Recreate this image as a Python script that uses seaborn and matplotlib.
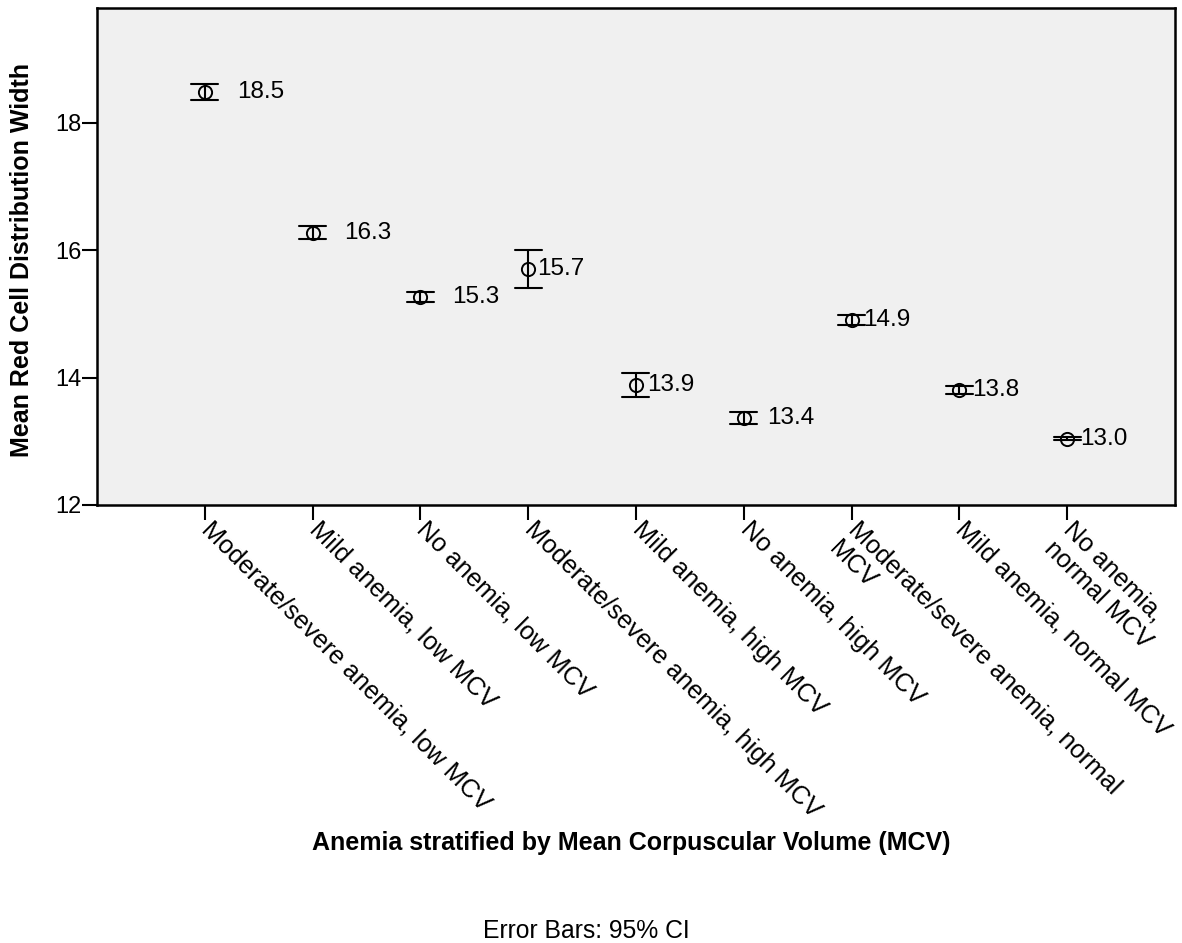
import numpy as np
import pandas as pd
import matplotlib
matplotlib.use("Agg")
import matplotlib.pyplot as plt
import matplotlib.transforms as mtransforms
import seaborn as sns

# values (mean and 95% CI limits)
groups = [
    "Moderate/severe anemia, low MCV",
    "Mild anemia, low MCV",
    "No anemia, low MCV",
    "Moderate/severe anemia, high MCV",
    "Mild anemia, high MCV",
    "No anemia, high MCV",
    "Moderate/severe anemia, normal\nMCV",
    "Mild anemia, normal MCV",
    "No anemia,\nnormal MCV",
]
means = [18.48, 16.27, 15.27, 15.70, 13.88, 13.36, 14.90, 13.80, 13.04]
ci_low = [18.35, 16.17, 15.19, 15.41, 13.70, 13.27, 14.82, 13.74, 13.02]
ci_high = [18.61, 16.38, 15.35, 16.00, 14.07, 13.46, 14.98, 13.86, 13.07]
value_labels = ["18.5", "16.3", "15.3", "15.7", "13.9", "13.4", "14.9", "13.8", "13.0"]

# label offsets in pixels (SPSS nudges them to clear the caps)
label_dx = [32, 32, 32, 9, 11, 23, 12, 13, 13]

sns.set_style("white")
plt.rcParams['font.family'] = ['Liberation Sans', 'DejaVu Sans']
plt.rcParams['text.color'] = 'black'
plt.rcParams['axes.labelcolor'] = 'black'
plt.rcParams['xtick.color'] = 'black'
plt.rcParams['ytick.color'] = 'black'

# three rows per group: median = mean, min/max = CI limits
rows = []
for g, m, lo, hi in zip(groups, means, ci_low, ci_high):
    for v in (lo, m, hi):
        rows.append({"group": g, "rdw": v})
df = pd.DataFrame(rows)

fig = plt.figure(figsize=(11.82, 9.43), dpi=100)
ax = fig.add_axes([0.082, 0.4645, 0.912, 0.527])
ax.set_facecolor("#f0f0f0")

sns.pointplot(data=df, x="group", y="rdw", order=groups,
              estimator="median", errorbar=("pi", 100),
              capsize=0.25, linestyle="none", color="black",
              marker="o", markerfacecolor="none", markeredgewidth=1.4,
              markersize=9.5, err_kws={"linewidth": 1.5}, ax=ax)

for i, (m, txt) in enumerate(zip(means, value_labels)):
    ax.annotate(txt, (i, m), xytext=(label_dx[i], 0), textcoords="offset pixels",
                ha="left", va="center", fontsize=17.5, color="black")

ax.set_xlim(-1, 9)
ax.set_ylim(12, 19.8)
ax.set_yticks([12, 14, 16, 18])
ax.tick_params(axis="y", direction="out", length=11, width=1.5, labelsize=17, pad=0, left=True)
ax.tick_params(axis="x", direction="out", length=11, width=1.5, labelsize=18.3, pad=1, bottom=True)
# nudge rotated labels so they start at the tick end, as in SPSS
shift = mtransforms.ScaledTranslation(9 / 100, 5 / 100, fig.dpi_scale_trans)
for lab in ax.get_xticklabels():
    lab.set_rotation(-45)
    lab.set_ha("left")
    lab.set_va("top")
    lab.set_rotation_mode("anchor")
    lab.set_transform(lab.get_transform() + shift)

for s in ax.spines.values():
    s.set_color("black")
    s.set_linewidth(1.8)

ax.set_ylabel("")
ax.set_xlabel("")
fig.text(0.019, 0.724, "Mean Red Cell Distribution Width", rotation=90,
         ha="center", va="center", fontsize=18, fontweight="bold")
fig.text(0.534, 0.106, "Anemia stratified by Mean Corpuscular Volume (MCV)",
         ha="center", va="center", fontsize=18, fontweight="bold")
fig.text(0.496, 0.013, "Error Bars: 95% CI", ha="center", va="center", fontsize=17.8)

fig.savefig("out.png", dpi=100)
